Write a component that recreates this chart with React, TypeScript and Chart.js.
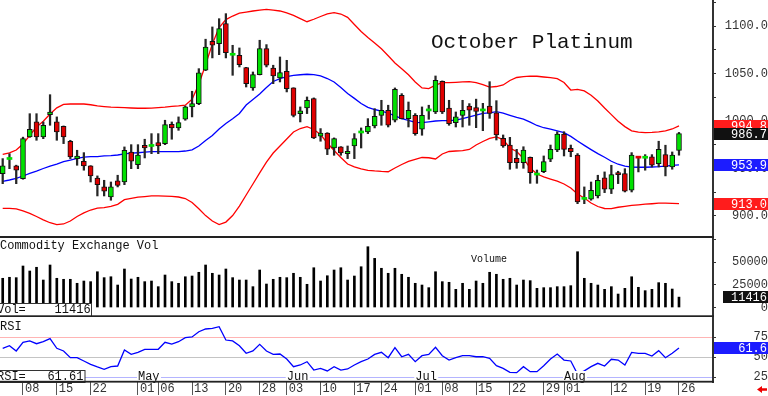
import React, { useEffect, useRef } from 'react';
import { Chart, registerables } from 'chart.js';

Chart.register(...registerables);

const FONT = '"Liberation Mono", "DejaVu Sans Mono", monospace';

// ---------------- data (trading days Apr 3 .. Aug 26) ----------------
const openP = [
  944.6, 959.5, 952.7, 939.3, 983.2, 999, 983.2, 1006.7, 999, 994.5,
  978.7, 960.4, 957.6, 952.7, 940, 930.6, 920, 936.9, 935.8, 967.4,
  954.1, 974.5, 973.2, 977.2, 976.2, 996.6, 992.7, 1001.8, 1014.8, 1018.3,
  1053.4, 1083.9, 1081.4, 1102.5, 1069.2, 1069.2, 1056.2, 1034.8, 1048.8, 1076.2,
  1055.8, 1045.3, 1052.4, 1034.8, 1007.8, 1013.7, 1023.6, 983.9, 987.4, 971.6,
  972.7, 965.6, 973.7, 987.4, 988.5, 994.8, 1006, 1011.3, 1000.8, 1027.1,
  1002.5, 1006, 991.3, 1010.6, 1009.5, 1041.8, 1013.7, 998.3, 1006, 1015.8,
  1014, 1010.6, 1015.8, 1008.7, 981.8, 974.7, 960.7, 956.1, 961.8, 943.1,
  946.6, 959.7, 969.5, 986.3, 971.3, 964, 917.5, 917.6, 921.1, 940.1,
  928.2, 945.6, 944.6, 927.1, 961.2, 960.8, 962.2, 955.1, 964.6, 951.6, 969,
];
const highP = [
  960.4, 965.6, 953.5, 983, 1007.7, 1007.7, 999, 1027.7, 1004.3, 994.8,
  979.7, 969.2, 966.7, 953, 942.2, 937.6, 935.8, 942.9, 972.7, 975.1,
  975.1, 980.8, 986.7, 986.7, 1000.8, 999, 1004.3, 1015.8, 1031.3, 1055.1,
  1086.1, 1099, 1107.7, 1113, 1079.7, 1076.9, 1056.5, 1051.6, 1085, 1080.4,
  1058.7, 1067.4, 1063.9, 1035, 1014.8, 1025.3, 1024.3, 992, 987.7, 982.2,
  973, 973.7, 986.7, 992.7, 1002.5, 1013, 1021.8, 1016.6, 1034.8, 1028.8,
  1020, 1007.8, 1014.8, 1016.6, 1047.4, 1042.2, 1021.8, 1009.5, 1021.8, 1018.3,
  1023, 1018.6, 1041.4, 1021.4, 985.3, 982.8, 970.2, 972.9, 962.1, 948.4,
  963.2, 974.7, 988.7, 988.7, 974.7, 965.7, 930.6, 935.8, 942.9, 946.4,
  953.4, 947.1, 949.8, 966.7, 962.2, 964.6, 964.6, 978.7, 974.5, 967.4, 988,
];
const lowP = [
  934, 949.8, 934, 938.7, 982.8, 979.7, 981.4, 995.5, 979.7, 976.2,
  960.4, 953.4, 948.2, 935.8, 921.1, 921.1, 916.6, 930.6, 933, 949.8,
  949.8, 961.1, 965.6, 965.6, 975.1, 980.8, 990.2, 1000.8, 1004.3, 1017.2,
  1053, 1066.4, 1069.8, 1066.4, 1048.1, 1056.9, 1035.8, 1032.3, 1048.5, 1056.9,
  1039.3, 1041.1, 1030.6, 1004.3, 999, 1007.8, 981.5, 978.7, 964.6, 963.9,
  963.9, 960.4, 960.4, 971.6, 986.7, 992.7, 995.5, 993.7, 999, 1002.2,
  993.7, 985, 985, 1001.8, 1007.8, 1007.8, 995.5, 993.7, 993.7, 995.5,
  993, 989.8, 1002.8, 980, 972.3, 949.2, 950.2, 950.2, 934.4, 934.4,
  945.6, 957.2, 967.7, 963.2, 962.4, 913, 913, 916.6, 919, 924.6,
  923.6, 934.1, 925.3, 925.3, 946.4, 948.2, 951.6, 951.6, 942.2, 949.2, 964,
];
const closeP = [
  952.7, 959.8, 948.2, 981.4, 991.3, 983.2, 995.5, 1009.5, 988.5, 983.2,
  962.2, 963.2, 952.7, 942.2, 933, 926.1, 930.6, 932.3, 969.2, 957.6,
  964, 971.6, 973.5, 973.7, 996.2, 992.7, 998.3, 1014.8, 1018.3, 1050.6,
  1077.9, 1079.7, 1097.2, 1071.9, 1069.4, 1059.3, 1039.3, 1048.8, 1076.2, 1058.7,
  1047.4, 1050.9, 1034.1, 1006, 1010.6, 1021.8, 982.2, 987.4, 970.3, 981.5,
  966.4, 968, 981.5, 987.6, 994.5, 1005, 1011.3, 995.5, 1033.4, 1002.5,
  1011.3, 986.7, 1006, 1010.8, 1042.9, 1009.5, 997.2, 1004.3, 1011.3, 1011.3,
  1010, 1010.9, 1008.1, 985.3, 973.7, 956.1, 956.1, 969.5, 945.6, 943.4,
  957.2, 970.2, 986.3, 970.2, 967.7, 914.8, 917.8, 927.1, 937.6, 928.2,
  943.6, 943.6, 926.1, 964, 960.9, 961.1, 953.4, 970.3, 951.6, 964, 986.7,
];
const upperBand = [
  964.9, 966.5, 969.5, 975.8, 984.9, 993.7, 999.7, 1007.4, 1013.9, 1017.4,
  1017.9, 1017.9, 1017.9, 1017.1, 1015.9, 1015.2, 1014.5, 1014.4, 1014.1, 1013.7,
  1013.4, 1013.4, 1013.6, 1014.1, 1014.7, 1015.5, 1016, 1016.7, 1022.9, 1038.6,
  1059.2, 1081.1, 1098.4, 1106.7, 1110.5, 1113.5, 1114.7, 1115.8, 1116.8, 1117.4,
  1116.8, 1115.8, 1113.7, 1111.1, 1107.8, 1104.5, 1107.1, 1110, 1112.7, 1114,
  1112.6, 1109.1, 1101.6, 1094.2, 1087.9, 1082.2, 1076, 1068.7, 1061.1, 1055.1,
  1048.6, 1041.1, 1034.8, 1034.1, 1037.7, 1040.3, 1040.3, 1040.7, 1041.1, 1041.4,
  1040.3, 1038.4, 1035.6, 1036.3, 1037.9, 1042.6, 1045.8, 1046.8, 1047.2, 1047.1,
  1046.3, 1045.6, 1044.5, 1040.5, 1032.6, 1033.2, 1031.6, 1027.1, 1021.1, 1013.7,
  1006.7, 999.8, 994.1, 989.7, 988.2, 987.8, 988.1, 988.6, 989.7, 991.6, 994.8,
];
const midBand = [
  936.5, 937.9, 939.5, 942.1, 944.8, 947.2, 950, 952.6, 954.6, 957.2,
  958.9, 960.7, 961.9, 962.4, 962.5, 963.2, 963.6, 964.2, 965.4, 966.1,
  966.6, 967.2, 967.7, 967.7, 967.7, 967.7, 967.8, 968.4, 969.7, 973.7,
  979.5, 984.7, 991.6, 997.4, 1002.3, 1007.9, 1016.8, 1022.6, 1028.4, 1035.3,
  1041.6, 1044.7, 1046.8, 1048.1, 1048.7, 1049.2, 1048.9, 1047.4, 1044.7, 1041.1,
  1035.3, 1028.9, 1023.8, 1018.4, 1014.3, 1012.1, 1010.3, 1008.4, 1005.5, 1002.6,
  1000.7, 998.6, 998.2, 999.1, 1000, 1000.3, 1000.3, 1000.9, 1002.6, 1004.3,
  1006.1, 1008, 1008.6, 1009.8, 1008.4, 1006, 1003.7, 1002, 998.8, 995.3,
  992.9, 991.4, 989.5, 987.7, 983.8, 978.9, 974.3, 969.9, 965.6, 961.8,
  957.6, 954.5, 952.4, 951.4, 951.3, 951.3, 951.6, 951.9, 952.4, 953.2, 953.9,
];
const lowerBand = [
  908.1, 908.1, 907.4, 905.3, 902.8, 899.5, 896, 892.9, 890.9, 891.6,
  894.7, 899.5, 903.2, 906.3, 908.2, 908.9, 910.2, 912.3, 917.2, 918.6,
  919.8, 920.5, 921.1, 921.1, 920.9, 920.6, 920, 918.4, 914.2, 907.6,
  900.4, 894.7, 890.9, 893.6, 900.5, 910.5, 922.1, 933.7, 945.3, 956.8,
  966.3, 973.7, 981.1, 988.4, 992.1, 994, 991.1, 985.8, 976.8, 968.9,
  961.6, 954.7, 951.7, 949.5, 948.1, 947.4, 946.9, 946.6, 950.5, 954.2,
  957.4, 959.5, 961.6, 961.3, 960, 965.3, 967.9, 968.4, 968.9, 970,
  974.7, 978.4, 981.6, 983.2, 980.5, 971.6, 967.9, 960.5, 950.5, 944.2,
  941.1, 938.9, 936.8, 933.7, 929.5, 923.2, 918.9, 913.7, 910, 907.9,
  907.7, 909.2, 910.2, 911.1, 911.8, 912.4, 912.9, 913.5, 913.5, 913.3, 913.0,
];
const volume = [
  32100, 33200, 32800, 45600, 40100, 44200, 30200, 46700, 32100, 31000,
  31000, 26600, 29100, 28400, 39300, 32800, 33800, 24700, 42300, 31300,
  33200, 28400, 29100, 22900, 35700, 28400, 26600, 33800, 34600, 38700,
  46700, 37600, 35700, 42300, 32800, 30200, 30200, 22900, 41200, 25800,
  31000, 33200, 32800, 37600, 33200, 25500, 43700, 29100, 34900, 41200,
  43700, 30200, 34600, 44800, 66800, 54000, 43100, 37600, 43100, 36500,
  33200, 26600, 24700, 21800, 39300, 28400, 27700, 20000, 26600, 20000,
  29100, 26600, 38700, 36500, 31000, 32100, 24700, 30200, 29500, 21100,
  21800, 21800, 22900, 22900, 24000, 61300, 32100, 26600, 24700, 20000,
  22900, 14800, 21100, 33800, 22200, 18500, 20000, 27300, 26600, 20300, 11416,
];
const rsi = [
  61.2, 64.5, 57.9, 68.7, 70.4, 67, 69.5, 73.3, 61.2, 57.9,
  49.5, 49.5, 45.4, 41.2, 37.9, 35, 38.3, 39.1, 59.1, 53.7,
  56.2, 60, 60, 60, 68.7, 66.6, 69.5, 74.5, 75.4, 82,
  85.4, 86.2, 88.2, 71.6, 70.4, 64.5, 55, 57.9, 66.2, 57.9,
  53.7, 54.1, 47.9, 38.3, 40.4, 44.5, 34.1, 36.2, 32.9, 38.3,
  34.1, 35.4, 40.4, 44.5, 47.9, 53.7, 56.2, 49.5, 62, 50.7,
  53.7, 44.5, 52, 53.7, 62.5, 52, 46.6, 49.5, 52, 52,
  50.7, 50.7, 48.7, 39.5, 36.2, 31.2, 30.8, 38.3, 32, 32,
  39.5, 47.9, 54.1, 46.6, 45.4, 29, 33, 38.3, 42.5, 39.1,
  47.5, 46.6, 40.4, 56.2, 55, 55, 51.6, 58.3, 49.5, 55, 61.61,
];
const tickIndex = [3, 8, 13, 20, 23, 28, 33, 38, 42, 47, 52, 56, 61, 65, 70, 75, 80, 83, 90, 95, 100];
const tickLabels = ['08', '15', '22', '01', '06', '13', '20', '28', '03', '10', '17', '24', '01', '08', '15', '22', '29', '01', '12', '19', '26'];
const monthIndex = [20, 42, 61, 83];
const monthLabels = ['May', 'Jun', 'Jul', 'Aug'];
const priceTicks = [900, 925, 950, 975, 1000, 1025, 1050, 1075, 1100, 1125];
const volumeTicks = [0, 25000, 50000, 75000];
const rsiTicks = [25, 50, 75];
const TITLE = 'October Platinum';

// ---------------- styling ----------------
const X_MIN = -0.4;
const X_MAX = 105.03;
const GREEN = '#00e000';
const RED = '#e00000';
const AXIS = '#333333';
const W = 768;

const zeroPad = (s: any) => {
  s.paddingTop = 0;
  s.paddingBottom = 0;
  s.paddingLeft = 0;
  s.paddingRight = 0;
};

const xHidden = { type: 'linear', min: X_MIN, max: X_MAX, display: false, offset: false };

function rightAxis(min: number, max: number, ticks: number[], padding: number, fmt: any, gridExtra: any = {}) {
  return {
    type: 'linear',
    position: 'right',
    min,
    max,
    beginAtZero: false,
    afterBuildTicks: (s: any) => { s.ticks = ticks.map((v) => ({ value: v })); },
    afterFit: (s: any) => { s.width = 55; zeroPad(s); },
    grid: { drawOnChartArea: false, drawTicks: true, tickLength: 3, tickColor: AXIS, color: AXIS, ...gridExtra },
    border: { display: true, color: AXIS, width: 2 },
    ticks: { autoSkip: false, padding, crossAlign: 'far', color: AXIS, font: { family: FONT, size: 12 }, callback: fmt },
  };
}

function valueBox(ctx: CanvasRenderingContext2D, left: number, y: number, bg: string, text: string) {
  const yy = Math.round(y);
  ctx.fillStyle = bg;
  ctx.fillRect(left, yy - 6, W - left, 12);
  ctx.fillStyle = '#ffffff';
  ctx.font = `12px ${FONT}`;
  ctx.textAlign = 'right';
  ctx.textBaseline = 'middle';
  ctx.fillText(text, 767, yy + 0.5);
}

const baseOptions = {
  responsive: false,
  maintainAspectRatio: false,
  animation: false,
  events: [],
  layout: { padding: 0 },
  plugins: { legend: { display: false }, tooltip: { enabled: false }, title: { display: false } },
};

const isDoji = (i: number) => Math.abs(closeP[i] - openP[i]) < 0.5;

function priceConfig(): any {
  const last = closeP.length - 1;
  return {
    type: 'bar',
    data: {
      datasets: [
        {
          type: 'bar',
          data: openP.map((o, i) => ({ x: i, y: [o, closeP[i]] })),
          backgroundColor: openP.map((o, i) => (closeP[i] >= o ? GREEN : RED)),
          borderColor: openP.map((o, i) => (isDoji(i) ? (closeP[i] >= o ? GREEN : RED) : '#111111')),
          borderWidth: openP.map((_, i) => (isDoji(i) ? 0 : 1)),
          borderSkipped: false,
          barThickness: 5,
          minBarLength: 2,
          grouped: false,
          order: 0,
        },
        {
          type: 'bar',
          data: highP.map((h, i) => ({ x: i, y: [lowP[i], h] })),
          backgroundColor: '#262626',
          borderWidth: 0,
          barThickness: 1.6,
          grouped: false,
          order: 1,
        },
        { type: 'line', data: upperBand.map((v, i) => ({ x: i, y: v })), borderColor: '#ff0000', borderWidth: 1.3, pointRadius: 0, order: 2 },
        { type: 'line', data: midBand.map((v, i) => ({ x: i, y: v })), borderColor: '#0000ff', borderWidth: 1.3, pointRadius: 0, order: 2 },
        { type: 'line', data: lowerBand.map((v, i) => ({ x: i, y: v })), borderColor: '#ff0000', borderWidth: 1.3, pointRadius: 0, order: 2 },
      ],
    },
    options: {
      ...baseOptions,
      scales: {
        x: xHidden,
        y: rightAxis(876.84, 1127.37, priceTicks, 7, (v: number) => (v % 50 === 0 ? v.toFixed(1) : '')),
      },
    },
    plugins: [
      {
        id: 'pricePanel',
        afterDraw(chart: any) {
          const { ctx } = chart;
          const ys = chart.scales.y;
          ctx.save();
          ctx.fillStyle = '#222222';
          ctx.fillRect(0, 236, 714, 2);
          ctx.fillStyle = '#111111';
          ctx.font = `21px ${FONT}`;
          ctx.textAlign = 'left';
          ctx.textBaseline = 'alphabetic';
          ctx.fillText(TITLE, 431, 48);
          valueBox(ctx, 714, ys.getPixelForValue(upperBand[last]), '#ff1c1c', upperBand[last].toFixed(1));
          valueBox(ctx, 714, ys.getPixelForValue(midBand[last]), '#1c1cff', midBand[last].toFixed(1));
          valueBox(ctx, 714, ys.getPixelForValue(lowerBand[last]), '#ff1c1c', lowerBand[last].toFixed(1));
          valueBox(ctx, 714, ys.getPixelForValue(closeP[last]), '#111111', closeP[last].toFixed(1));
          ctx.restore();
        },
      },
    ],
  };
}

function volumeConfig(): any {
  const last = volume.length - 1;
  return {
    type: 'bar',
    data: {
      datasets: [
        {
          type: 'bar',
          data: volume.map((v, i) => ({ x: i, y: v })),
          backgroundColor: '#000000',
          borderWidth: 0,
          barThickness: 2,
          grouped: false,
        },
      ],
    },
    options: {
      ...baseOptions,
      scales: {
        x: xHidden,
        y: rightAxis(-10439, 76374, volumeTicks, 14, (v: number) => (v === 75000 ? '' : String(v))),
      },
    },
    plugins: [
      {
        id: 'volumePanel',
        afterDraw(chart: any) {
          const { ctx } = chart;
          const ys = chart.scales.y;
          ctx.save();
          ctx.fillStyle = '#111111';
          ctx.font = `12px ${FONT}`;
          ctx.textAlign = 'left';
          ctx.textBaseline = 'alphabetic';
          ctx.fillText('Commodity Exchange Vol', 0, 11);
          ctx.font = `10px ${FONT}`;
          ctx.fillText('Volume', 471, 24.3);
          // Vol= box
          ctx.fillStyle = '#ffffff';
          ctx.fillRect(0, 65.5, 91.5, 13);
          ctx.strokeStyle = '#333333';
          ctx.lineWidth = 1;
          ctx.strokeRect(-1, 65.5, 92.5, 14);
          ctx.fillStyle = '#111111';
          ctx.font = `12px ${FONT}`;
          ctx.fillText('Vol=    ' + volume[last], -3, 75.3);
          // separator
          ctx.fillStyle = '#222222';
          ctx.fillRect(0, 77.3, 714, 1.7);
          valueBox(ctx, 723, ys.getPixelForValue(volume[last]), '#111111', String(volume[last]));
          ctx.restore();
        },
      },
    ],
  };
}

function rsiConfig(): any {
  const last = rsi.length - 1;
  const gridColor = (c: any) => {
    const v = c.tick ? c.tick.value : 0;
    if (v === 75) return '#ffb4b4';
    if (v === 50) return '#c4c4c4';
    return '#b4b4ff';
  };
  return {
    type: 'line',
    data: {
      datasets: [
        { type: 'line', data: rsi.map((v, i) => ({ x: i, y: v })), borderColor: '#0000ff', borderWidth: 1.3, pointRadius: 0 },
      ],
    },
    options: {
      ...baseOptions,
      scales: {
        x: {
          type: 'linear',
          min: X_MIN,
          max: X_MAX,
          offset: false,
          position: 'bottom',
          afterBuildTicks: (s: any) => { s.ticks = tickIndex.map((v) => ({ value: v })); },
          afterFit: (s: any) => { s.height = 14; zeroPad(s); },
          grid: { drawOnChartArea: false, drawTicks: true, tickLength: 13, tickColor: '#555555', color: '#555555' },
          border: { display: false },
          ticks: {
            autoSkip: false,
            maxRotation: 0,
            minRotation: 0,
            align: 'start',
            labelOffset: 2,
            padding: -13,
            color: AXIS,
            font: { family: FONT, size: 12 },
            callback: (v: number) => {
              const k = tickIndex.indexOf(v);
              return k >= 0 ? tickLabels[k] : '';
            },
          },
        },
        y: rightAxis(19.125, 100.375, rsiTicks, 21, (v: number) => String(v), { drawOnChartArea: true, color: gridColor, lineWidth: 1 }),
      },
    },
    plugins: [
      {
        id: 'rsiPanel',
        afterDraw(chart: any) {
          const { ctx } = chart;
          const ys = chart.scales.y;
          const xs = chart.scales.x;
          ctx.save();
          ctx.fillStyle = '#111111';
          ctx.font = `12px ${FONT}`;
          ctx.textAlign = 'left';
          ctx.textBaseline = 'alphabetic';
          ctx.fillText('RSI', 0, 13);
          // month labels
          monthIndex.forEach((idx, k) => {
            const x = xs.getPixelForValue(idx);
            ctx.fillStyle = '#ffffff';
            ctx.fillRect(x - 1, 54, 24, 10);
            ctx.fillStyle = '#111111';
            ctx.fillText(monthLabels[k], x, 62.5);
          });
          // RSI= box
          ctx.fillStyle = '#ffffff';
          ctx.fillRect(0, 53, 85, 11);
          ctx.strokeStyle = '#333333';
          ctx.lineWidth = 1;
          ctx.strokeRect(-1, 53.5, 86, 12);
          ctx.fillStyle = '#111111';
          ctx.fillText('RSI=   ' + rsi[last].toFixed(2), -3, 62.5);
          // separator
          ctx.fillStyle = '#222222';
          ctx.fillRect(0, 63.8, 714, 1.8);
          valueBox(ctx, 714, ys.getPixelForValue(rsi[last]), '#1c1cff', rsi[last].toFixed(1));
          // red arrow
          ctx.fillStyle = '#ee0000';
          ctx.beginPath();
          ctx.moveTo(757, 72.5);
          ctx.lineTo(762, 69);
          ctx.lineTo(762, 71.3);
          ctx.lineTo(767, 71.3);
          ctx.lineTo(767, 73.7);
          ctx.lineTo(762, 73.7);
          ctx.lineTo(762, 76);
          ctx.closePath();
          ctx.fill();
          ctx.restore();
        },
      },
    ],
  };
}

export default function App() {
  const priceRef = useRef<HTMLCanvasElement>(null);
  const volRef = useRef<HTMLCanvasElement>(null);
  const rsiRef = useRef<HTMLCanvasElement>(null);

  useEffect(() => {
    const charts = [
      new Chart(priceRef.current as any, priceConfig()),
      new Chart(volRef.current as any, volumeConfig()),
      new Chart(rsiRef.current as any, rsiConfig()),
    ];
    return () => charts.forEach((c) => c.destroy());
  }, []);

  return (
    <div style={{ position: 'absolute', left: 0, top: 0, width: W, height: 396, background: '#ffffff', overflow: 'hidden' }}>
      <canvas ref={priceRef} width={W} height={238} style={{ position: 'absolute', left: 0, top: 0 }} />
      <canvas ref={volRef} width={W} height={79} style={{ position: 'absolute', left: 0, top: 238 }} />
      <canvas ref={rsiRef} width={W} height={79} style={{ position: 'absolute', left: 0, top: 317 }} />
    </div>
  );
}
